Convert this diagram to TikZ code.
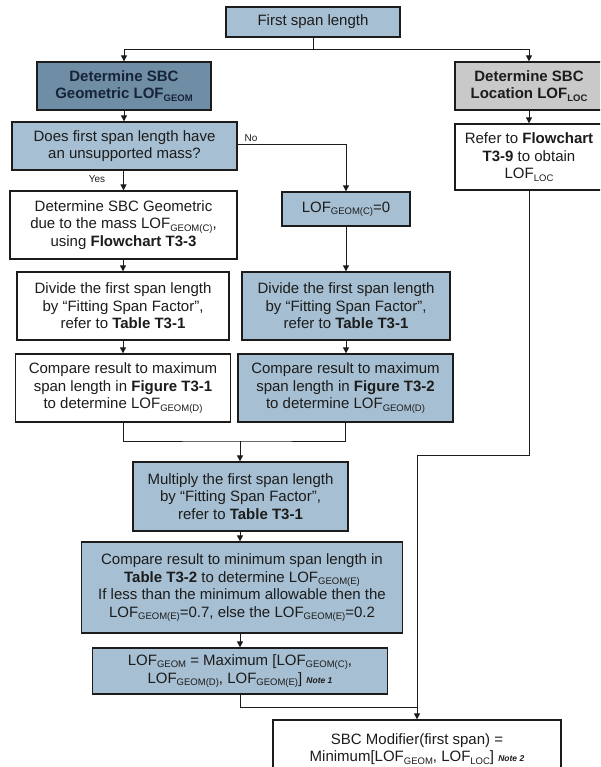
\documentclass[tikz,border=0pt]{standalone}
\usepackage{fontspec}
\setmainfont{Liberation Sans}
\usetikzlibrary{arrows.meta}

\definecolor{boxblue}{RGB}{166,191,210}
\definecolor{boxdark}{RGB}{112,141,166}
\definecolor{boxgray}{RGB}{201,201,201}
\definecolor{ink}{RGB}{28,28,28}
\definecolor{navy}{RGB}{22,36,56}

% small lowered subscript used for the LOF indices
\newcommand\lsub[1]{\raisebox{-0.3ex}{\fontsize{9.5}{10}\selectfont #1}}
% bold italic note marker
\newcommand\notetag[1]{{\fontsize{8.5}{10}\selectfont\bfseries\itshape #1}}

\begin{document}
\begin{tikzpicture}[
  x=1pt, y=-1pt,
  font=\fontsize{15}{17.5}\selectfont,
  box/.style={draw=ink, line width=1.3pt, align=center, inner sep=0pt, text=ink},
  bluebox/.style={box, fill=boxblue},
  whitebox/.style={box, fill=white},
  darkbox/.style={box, fill=boxdark, text=navy, font=\fontsize{15}{17.5}\selectfont\bfseries},
  graybox/.style={box, fill=boxgray, font=\fontsize{15}{17.5}\selectfont\bfseries},
  link/.style={draw=ink, line width=1pt},
  arrow/.style={link, -{Triangle[length=6pt,width=6pt]}},
  lbl/.style={font=\fontsize{10}{12}\selectfont, text=ink, inner sep=0pt}
]
\path[use as bounding box, clip] (0,0) rectangle (600,767);
\fill[white] (0,0) rectangle (600,767);

% boxes
\node[bluebox, minimum width=174pt, minimum height=30pt] (start) at (313,22) {First span length};
\node[darkbox, minimum width=174pt, minimum height=48pt] (geom) at (124,86) {Determine SBC\\Geometric LOF\lsub{GEOM}};
\node[graybox, minimum width=148pt, minimum height=48pt] (loc) at (529,86) {Determine SBC\\Location LOF\lsub{LOC}};
\node[bluebox, minimum width=225pt, minimum height=48pt] (ask) at (124.5,146) {Does first span length have\\an unsupported mass?};
\node[whitebox, minimum width=148pt, minimum height=66pt] (refer) at (529,157) {Refer to \textbf{Flowchart}\\\textbf{T3-9} to obtain\\LOF\lsub{LOC}};
\node[whitebox, minimum width=227pt, minimum height=68pt] (mass) at (123.5,225) {Determine SBC Geometric\\due to the mass LOF\lsub{GEOM(C)},\\using \textbf{Flowchart T3-3}};
\node[bluebox, minimum width=128pt, minimum height=34pt] (zero) at (346,209) {LOF\lsub{GEOM(C)}=0};
\node[whitebox, minimum width=212pt, minimum height=68pt] (divl) at (123,306) {Divide the first span length\\by “Fitting Span Factor”,\\refer to \textbf{Table T3-1}};
\node[bluebox, minimum width=208pt, minimum height=68pt] (divr) at (346,306) {Divide the first span length\\by “Fitting Span Factor”,\\refer to \textbf{Table T3-1}};
\node[whitebox, minimum width=215pt, minimum height=68pt] (cmpl) at (123,388) {Compare result to maximum\\span length in \textbf{Figure T3-1}\\to determine LOF\lsub{GEOM(D)}};
\node[bluebox, minimum width=215pt, minimum height=68pt] (cmpr) at (345.5,388) {Compare result to maximum\\span length in \textbf{Figure T3-2}\\to determine LOF\lsub{GEOM(D)}};
\node[bluebox, minimum width=215pt, minimum height=69pt] (mult) at (240.5,496.5) {Multiply the first span length\\by “Fitting Span Factor”,\\refer to \textbf{Table T3-1}};
\node[bluebox, minimum width=321pt, minimum height=91pt] (cmpmin) at (242,587.5) {Compare result to minimum span length in\\\textbf{Table T3-2} to determine LOF\lsub{GEOM(E)}\\If less than the minimum allowable then the\\LOF\lsub{GEOM(E)}=0.7, else the LOF\lsub{GEOM(E)}=0.2};
\node[bluebox, minimum width=295pt, minimum height=46pt] (maxgeom) at (240,671) {LOF\lsub{GEOM} = Maximum [LOF\lsub{GEOM(C)},\\LOF\lsub{GEOM(D)}, LOF\lsub{GEOM(E)}] \notetag{Note 1}};
\node[whitebox, minimum width=288pt, minimum height=58pt] (sbc) at (417,749) {SBC Modifier(first span) =\\Minimum[LOF\lsub{GEOM}, LOF\lsub{LOC}] \notetag{Note 2}};

% branch labels
\node[lbl] (yes) at (97,179) {Yes};
\node[lbl] (no) at (251,138) {No};

% junction points
\coordinate (split) at (313,50);
\coordinate (merge) at (240,441);
\coordinate (join) at (417,707);
\coordinate (bend) at (529,455);

% connectors
\draw[link] (start.south) -- (split);
\draw[arrow] (split) -| (geom.north);
\draw[arrow] (split) -| (loc.north);
\draw[arrow] (geom.south) -- (geom.south |- ask.north);
\draw[arrow] (loc.south) -- (loc.south |- refer.north);
\draw[arrow] (ask.south -| mass.north) -- (mass.north);
\draw[arrow] (ask.east |- 0,145) -| (zero.north);
\draw[arrow] (mass.south -| divl.north) -- (divl.north);
\draw[arrow] (zero.south) -- (zero.south |- divr.north);
\draw[arrow] (divl.south) -- (divl.south |- cmpl.north);
\draw[arrow] (divr.south) -- (divr.south |- cmpr.north);
\draw[link] (cmpl.south) |- (merge) -| (cmpr.south);
\draw[arrow] (merge) -- (merge |- mult.north);
\draw[arrow] (mult.south -| merge) -- (merge |- cmpmin.north);
\draw[arrow] (cmpmin.south -| merge) -- (merge |- maxgeom.north);
\draw[link] (maxgeom.south) |- (join);
\draw[arrow] (refer.south) -- (bend) -| (sbc.north);
\end{tikzpicture}
\end{document}
